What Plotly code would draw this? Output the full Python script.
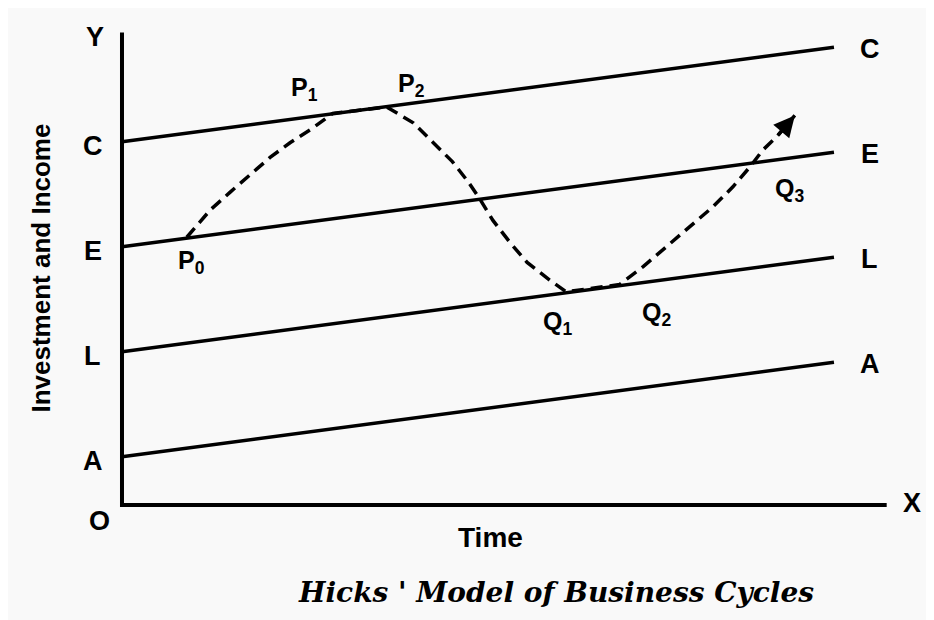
import plotly.graph_objects as go

# Linhas de crescimento (início em t=0, fim em t=10)
linhas = ["C", "E", "L", "A"]
inicio = [3.46, 2.46, 1.46, 0.46]
fim = [4.36, 3.36, 2.36, 1.36]
t_linhas = [0, 10]

# Trajetória do ciclo (tracejada): P0 -> P1 -> P2 -> Q1 -> Q2 -> seta
ciclo_t = [0.91, 1.24, 1.52, 1.80, 2.08, 2.36, 2.68, 2.96,
           3.72, 4.09, 4.37, 4.64, 4.86, 5.03, 5.21, 5.45, 5.69, 6.01, 6.24,
           6.99, 7.32, 7.65, 7.98, 8.30, 8.58, 8.82, 9.00, 9.20, 9.45]
ciclo_y = [2.55, 2.81, 2.98, 3.14, 3.31, 3.45, 3.59, 3.73,
           3.79, 3.64, 3.45, 3.27, 3.08, 2.91, 2.71, 2.50, 2.31, 2.14, 2.03,
           2.10, 2.27, 2.46, 2.65, 2.84, 3.03, 3.22, 3.38, 3.51, 3.71]

# Pontos nomeados
pontos = ["P<sub>0</sub>", "P<sub>1</sub>", "P<sub>2</sub>", "Q<sub>1</sub>", "Q<sub>2</sub>", "Q<sub>3</sub>"]
pontos_t = [0.97, 2.57, 4.07, 6.11, 7.51, 9.37]
pontos_y = [2.31, 3.96, 4.00, 1.73, 1.82, 3.00]

eixo_x_fim = 10.74
eixo_y_fim = 4.5

fonte_letras = "Liberation Sans, Arial, sans-serif"
fonte_titulos = "Liberation Sans Narrow, Arial Narrow, Liberation Sans, Arial"

fig = go.Figure()

# Eixos
fig.add_trace(go.Scatter(x=[0, 0, eixo_x_fim], y=[eixo_y_fim, 0, 0], mode="lines",
                         line=dict(color="black", width=4), hoverinfo="skip"))

for nome, y0, y1 in zip(linhas, inicio, fim):
    fig.add_trace(go.Scatter(x=t_linhas, y=[y0, y1], mode="lines", name=nome,
                             line=dict(color="black", width=3.5), hoverinfo="skip"))
    fig.add_annotation(x=t_linhas[0], y=y0, text=f"<b>{nome}</b>", xshift=-29, yshift=-4,
                       showarrow=False, font=dict(size=27))
    fig.add_annotation(x=t_linhas[1], y=y1, text=f"<b>{nome}</b>", xshift=36, yshift=-2,
                       showarrow=False, font=dict(size=27))

fig.add_trace(go.Scatter(x=ciclo_t, y=ciclo_y, mode="lines",
                         line=dict(color="black", width=3.5, dash="12px,7px"),
                         hoverinfo="skip"))

# Ponta da seta
fig.add_annotation(x=ciclo_t[-1], y=ciclo_y[-1], ax=ciclo_t[-2], ay=ciclo_y[-2],
                   xref="x", yref="y", axref="x", ayref="y", text="", showarrow=True,
                   arrowhead=2, arrowsize=1.2, arrowwidth=3.5, arrowcolor="black")

for nome, t, y in zip(pontos, pontos_t, pontos_y):
    fig.add_annotation(x=t, y=y, text=f"<b>{nome}</b>", showarrow=False, font=dict(size=25))

fig.add_annotation(x=-0.38, y=4.46, text="<b>Y</b>", showarrow=False, font=dict(size=27))
fig.add_annotation(x=-0.31, y=-0.15, text="<b>O</b>", showarrow=False, font=dict(size=27))
fig.add_annotation(x=11.10, y=0.02, text="<b>X</b>", showarrow=False, font=dict(size=27))
fig.add_annotation(x=5.17, y=-0.31, text="<b>Time</b>", showarrow=False,
                   font=dict(size=28, family=fonte_titulos))
fig.add_annotation(x=-1.14, y=2.26, text="<b>Investment and Income</b>", textangle=-90,
                   showarrow=False, font=dict(size=26, family=fonte_titulos))
fig.add_annotation(x=6.10, y=-0.83, text="<b><i>Hicks ' Model of Business Cycles</i></b>",
                   showarrow=False,
                   font=dict(size=28, family="DejaVu Serif, Liberation Serif, serif"))

fig.update_layout(
    width=934, height=620,
    margin=dict(l=0, r=0, t=0, b=0),
    paper_bgcolor="#f9f9f9", plot_bgcolor="#f9f9f9",
    showlegend=False,
    font=dict(family=fonte_letras, color="black", size=22),
    xaxis=dict(range=[-1.601, 11.517], visible=False, fixedrange=True),
    yaxis=dict(range=[-1.171, 4.733], visible=False, fixedrange=True),
)

fig.write_html("out.html")
